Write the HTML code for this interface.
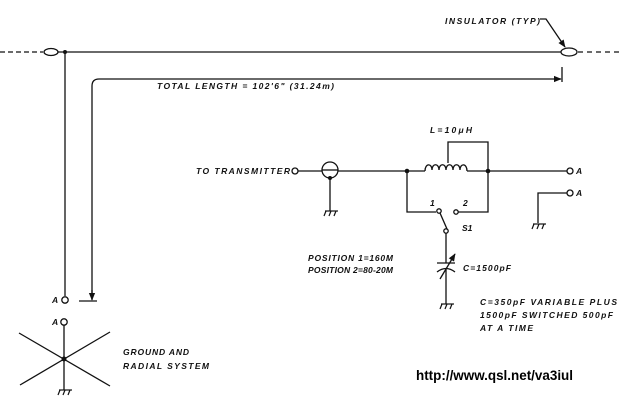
<!DOCTYPE html>
<html><head><meta charset="utf-8"><style>
html,body{margin:0;padding:0;background:#fff;}
svg{display:block;}
text{font-family:"Liberation Sans",sans-serif;font-style:italic;font-weight:bold;font-size:8.5px;fill:#111;}
.u{font-style:normal;font-size:13.4px;fill:#000;}
</style></head><body>
<svg width="631" height="405" viewBox="0 0 631 405" xmlns="http://www.w3.org/2000/svg">
<defs>
<marker id="ar" viewBox="0 0 10 10" refX="9" refY="5" markerWidth="6" markerHeight="6" orient="auto"><path d="M0,1 L10,5 L0,9 z" fill="#111"/></marker>
<g id="gnd" stroke="#111" stroke-width="1.2" fill="none">
<line x1="-6" y1="0" x2="7" y2="0"/>
<line x1="-5" y1="0" x2="-7" y2="5"/>
<line x1="0" y1="0" x2="-2" y2="5"/>
<line x1="5" y1="0" x2="3" y2="5"/>
</g>
</defs>
<g stroke="#111" stroke-width="1.3" fill="none">
<!-- antenna -->
<line x1="0" y1="52" x2="43" y2="52" stroke-dasharray="5,3"/>
<ellipse cx="51" cy="52" rx="7" ry="3.5"/>
<line x1="58" y1="52" x2="561" y2="52"/>
<ellipse cx="569" cy="52" rx="8" ry="4"/>
<line x1="578" y1="52" x2="622" y2="52" stroke-dasharray="5,4"/>
<line x1="65" y1="52" x2="65" y2="296"/>
<circle cx="65" cy="300" r="3.2"/>
<!-- total length -->
<path d="M92,297 L92,86 Q92,79 99,79 L561,79" marker-end="url(#ar)"/>
<line x1="92" y1="290" x2="92" y2="300" marker-end="url(#ar)"/>
<line x1="79" y1="301" x2="97" y2="301"/>
<line x1="562" y1="67" x2="562" y2="82"/>
<!-- insulator leader -->
<path d="M540,19 L546,19 L565,47" marker-end="url(#ar)"/>
<!-- transmitter -->
<circle cx="295" cy="171" r="3"/>
<line x1="298" y1="171" x2="322" y2="171"/>
<circle cx="330" cy="170" r="8"/>
<line x1="322" y1="170" x2="338" y2="170"/>
<line x1="330" y1="178" x2="330" y2="211"/>
<line x1="338" y1="171" x2="425" y2="171"/>
<!-- inductor -->
<path d="M425,171 C425,163 432,163 432,170 C432,163 439,163 439,170 C439,163 446,163 446,170 C446,163 453,163 453,170 C453,163 460,163 460,170 C460,163 467,163 467,171"/>
<line x1="467" y1="171" x2="567" y2="171"/>
<circle cx="570" cy="171" r="3"/>
<polyline points="448,163 448,142 488,142 488,171"/>
<!-- branch -->
<polyline points="407,171 407,212 436,212"/>
<circle cx="439" cy="211" r="2.2"/>
<circle cx="456" cy="212" r="2.2"/>
<polyline points="458,212 488,212 488,171"/>
<line x1="440" y1="213" x2="447" y2="229"/>
<circle cx="446" cy="231" r="2.2"/>
<line x1="446" y1="233" x2="446" y2="263"/>
<line x1="437" y1="263" x2="455" y2="263"/>
<path d="M437,272 Q446,265 455,272"/>
<line x1="446" y1="268" x2="446" y2="304"/>
<line x1="440" y1="279" x2="455" y2="254" marker-end="url(#ar)"/>
<!-- right A -->
<polyline points="538,223 538,193 567,193"/>
<circle cx="570" cy="193" r="3"/>
<!-- ground radial -->
<circle cx="64" cy="322" r="3.2"/>
<line x1="64" y1="325" x2="64" y2="390"/>
<line x1="19" y1="333" x2="110" y2="386"/>
<line x1="20" y1="385" x2="110" y2="332"/>
</g>
<g fill="#111">
<circle cx="65" cy="52" r="2"/>
<circle cx="330" cy="178" r="2"/>
<circle cx="407" cy="171" r="2.3"/>
<circle cx="488" cy="171" r="2.3"/>
<circle cx="64" cy="359" r="2.5"/>
</g>
<use href="#gnd" x="331" y="211"/>
<use href="#gnd" x="447" y="304"/>
<use href="#gnd" x="539" y="224"/>
<use href="#gnd" x="65" y="390"/>
<text x="445" y="24" textLength="95" lengthAdjust="spacing">INSULATOR (TYP)</text>
<text x="157" y="89" textLength="177" lengthAdjust="spacing">TOTAL LENGTH = 102'6" (31.24m)</text>
<text x="196" y="174" textLength="94" lengthAdjust="spacing">TO TRANSMITTER</text>
<text x="430" y="133" textLength="42" lengthAdjust="spacing">L=10μH</text>
<text x="576" y="174">A</text>
<text x="576" y="196">A</text>
<text x="430" y="206">1</text>
<text x="463" y="206">2</text>
<text x="462" y="231">S1</text>
<text x="463" y="271" textLength="48" lengthAdjust="spacing">C=1500pF</text>
<text x="308" y="261" textLength="85" lengthAdjust="spacing">POSITION 1=160M</text>
<text x="308" y="273" textLength="85" lengthAdjust="spacing">POSITION 2=80-20M</text>
<text x="480" y="305" textLength="137" lengthAdjust="spacing">C=350pF VARIABLE PLUS</text>
<text x="480" y="318" textLength="133" lengthAdjust="spacing">1500pF SWITCHED 500pF</text>
<text x="480" y="331" textLength="53" lengthAdjust="spacing">AT A TIME</text>
<text x="52" y="303">A</text>
<text x="52" y="325">A</text>
<text x="123" y="355" textLength="66" lengthAdjust="spacing">GROUND AND</text>
<text x="123" y="369" textLength="86" lengthAdjust="spacing">RADIAL SYSTEM</text>
<text class="u" x="416" y="380" textLength="157" lengthAdjust="spacingAndGlyphs">http://www.qsl.net/va3iul</text>
</svg>
</body></html>
